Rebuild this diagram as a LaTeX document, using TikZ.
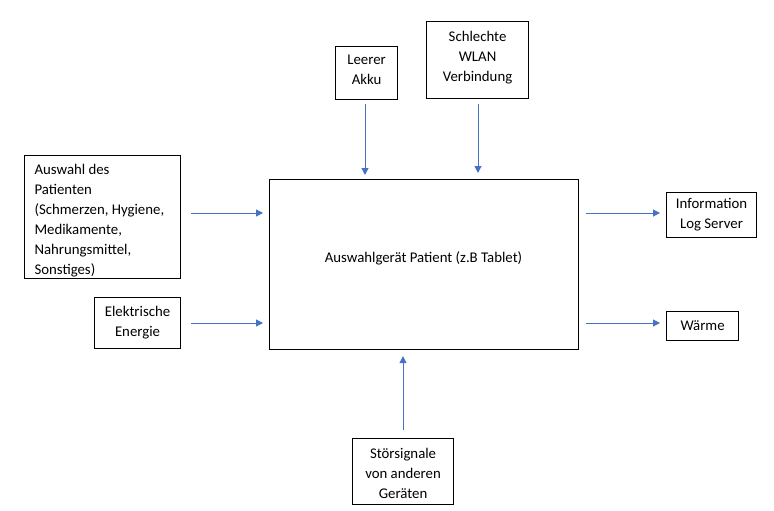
\documentclass[tikz,border=0pt]{standalone}
\usepackage{fontspec}
\setmainfont{Carlito}
\usetikzlibrary{arrows.meta}
\definecolor{arrblue}{HTML}{4472C4}
\tikzset{
  txt/.style={font=\fontsize{14.8}{20}\selectfont},
  box/.style={draw, line width=1.1pt, inner sep=0pt, align=center, anchor=north west, txt},
  arr/.style={draw=arrblue, line width=1pt, -{Triangle[width=7pt,length=7pt]}, color=arrblue}
}
\begin{document}
\begin{tikzpicture}[x=1pt,y=-1pt]
\useasboundingbox[fill=white] (0,0) rectangle (774,511);
\node[box, minimum width=62pt, minimum height=53pt] (akku) at (335,46) {};
\node[txt, align=center] (akkut) at ([yshift=3pt]akku.center) {Leerer\\Akku};
\node[box, minimum width=102pt, minimum height=77pt] (wlan) at (426,21) {};
\node[txt, align=center] (wlant) at ([yshift=2.5pt]wlan.center) {Schlechte\\WLAN\\Verbindung};
\node[box, minimum width=156pt, minimum height=123pt] (pat) at (24,155) {};
\node[txt, align=left, anchor=north west] (patt) at (31,161)
  {Auswahl des\\Patienten\\(Schmerzen, Hygiene,\\Medikamente,\\Nahrungsmittel,\\Sonstiges)};
\node[box, minimum width=309pt, minimum height=170pt] (main) at (269,179) {};
\node[txt] (mtext) at (423.5,258) {Auswahlgerät Patient (z.B Tablet)};
\node[box, minimum width=90pt, minimum height=45pt] (info) at (666,192) {Information\\Log Server};
\node[box, minimum width=86pt, minimum height=51pt] (energie) at (94,297) {Elektrische\\Energie};
\node[box, minimum width=72pt, minimum height=29pt] (waerme) at (666,311) {Wärme};
\node[box, minimum width=101pt, minimum height=66pt] (stoer) at (352,438) {};
\node[txt, align=center] (stoert) at ([yshift=-2pt]stoer.center) {Störsignale\\von anderen\\Geräten};
\coordinate (ya) at (0,213);
\coordinate (yb) at (0,323);
\coordinate (xa) at (365,0);
\coordinate (xb) at (478,0);
\coordinate (xc) at (403,0);
\draw[arr, shorten <=4pt, shorten >=4pt] (akku.south -| xa) -- (main.north -| xa);
\draw[arr, shorten <=5pt, shorten >=6pt] (wlan.south -| xb) -- (main.north -| xb);
\draw[arr, shorten <=10pt, shorten >=6pt] (pat.east |- ya) -- (main.west |- ya);
\draw[arr, shorten <=10pt, shorten >=6pt] (energie.east |- yb) -- (main.west |- yb);
\draw[arr, shorten <=7pt, shorten >=6pt] (main.east |- ya) -- (info.west |- ya);
\draw[arr, shorten <=7pt, shorten >=6pt] (main.east |- yb) -- (waerme.west |- yb);
\draw[arr, shorten <=8pt, shorten >=6pt] (stoer.north -| xc) -- (main.south -| xc);
\end{tikzpicture}
\end{document}
